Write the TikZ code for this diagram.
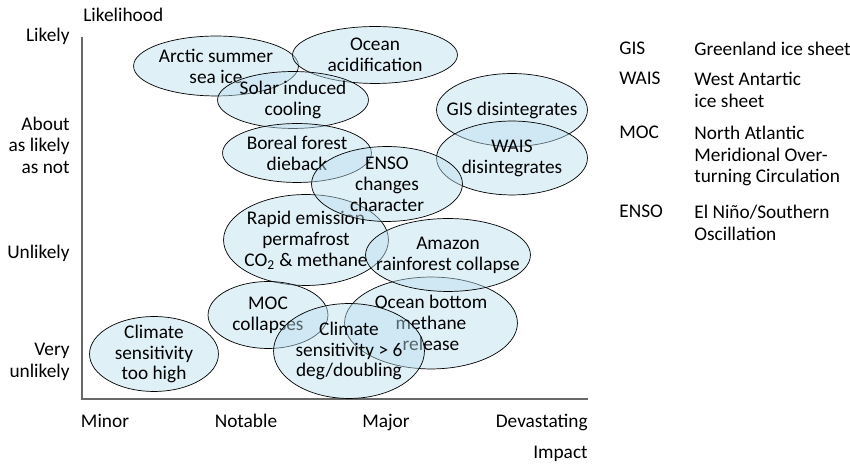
\documentclass[tikz,border=0pt]{standalone}
\usepackage{fontspec}
\setmainfont{Carlito}
\definecolor{riskblue}{RGB}{186,222,238}
\definecolor{axisgray}{RGB}{105,105,105}

\begin{document}
\begin{tikzpicture}[x=0.02cm, y=-0.02cm,
	font=\fontsize{11}{12.3}\selectfont,
	risk/.style args={#1/#2}{rectangle, inner sep=0pt, align=center, font=\fontsize{11}{11.9}\selectfont,
		minimum width=#1, minimum height=#2,
		path picture={\draw[thin, fill=riskblue, fill opacity=0.45] (path picture bounding box.center) ellipse [x radius=#1/2-0.3pt, y radius=#2/2-0.3pt];}},
	lab/.style={align=right, anchor=east, inner sep=0pt},
	tick/.style={anchor=base, inner sep=0pt},
	abbr/.style={anchor=north west, inner sep=0pt, align=left}]
	\useasboundingbox (0,0) rectangle (850,465);

	% axes
	\coordinate (top) at (82,37);
	\coordinate (origin) at (82,399);
	\coordinate (right) at (588,399);
	\draw[axisgray, line width=1.1pt] (top) -- (origin) -- (right);

	\node[tick, anchor=base west] (likelihood) at (83,22) {Likelihood};
	\node[tick, anchor=base east] (impact) at (588,459) {Impact};

	\node[lab, anchor=base east] (likely) at (70,42) {Likely};
	\node[lab] (about) at (70,145) {About\\as likely\\as not};
	\node[lab, anchor=base east] (unlikely) at (70,259) {Unlikely};
	\node[lab] (vunlikely) at (70,362) {Very\\unlikely};

	\node[tick] (minor) at (105,428) {Minor};
	\node[tick] (notable) at (246,428) {Notable};
	\node[tick] (major) at (386,428) {Major};
	\node[tick, anchor=base east] (devastating) at (588,428) {Devastating};

	% risks
	\node[risk=3.32cm/1.22cm] (arctic) at (216,66) {Arctic summer\\sea ice};
	\node[risk=3.32cm/1.16cm] (acid) at (375,55) {Ocean\\acidification};
	\node[risk=3.04cm/1.16cm] (solar) at (293,100) {Solar induced\\cooling};
	\node[risk=3.0cm/1.2cm] (boreal) at (297,153) {Boreal forest\\dieback};
	\node[risk=3.04cm/1.48cm] (gis) at (512,110) {GIS disintegrates};
	\node[risk=3.04cm/1.5cm] (wais) at (512,158) {WAIS\\disintegrates};
	\node[risk=3.32cm/1.84cm] (permafrost) at (306,240) {Rapid emission\\permafrost\\CO\textsubscript{2} \& methane};
	\node[risk=3.48cm/1.86cm] (bottom) at (431,323) {Ocean bottom\\methane\\release};
	\node[risk=3.32cm/1.48cm] (amazon) at (448,255) {Amazon\\rainforest collapse};
	\node[risk=3.04cm/1.52cm] (enso) at (387,184) {ENSO\\changes\\character};
	\node[risk=2.42cm/1.36cm] (moc) at (268,315) {MOC\\collapses};
	\node[risk=3.04cm/1.92cm] (six) at (349,351) {Climate\\sensitivity > 6\\deg/doubling};
	\node[risk=2.6cm/1.52cm] (toohigh) at (154,354) {Climate\\sensitivity\\too high};

	% legend
	\node[abbr] (gisA) at (619,42) {GIS};
	\node[abbr] (gisT) at (694,42) {Greenland ice sheet};
	\node[abbr] (waisA) at (619,72) {WAIS};
	\node[abbr] (waisT) at (694,72) {West Antartic\\ice sheet};
	\node[abbr] (mocA) at (619,126) {MOC};
	\node[abbr] (mocT) at (694,126) {North Atlantic\\Meridional Over-\\turning Circulation};
	\node[abbr] (ensoA) at (619,205) {ENSO};
	\node[abbr] (ensoT) at (694,205) {El Niño/Southern\\Oscillation};
\end{tikzpicture}
\end{document}
